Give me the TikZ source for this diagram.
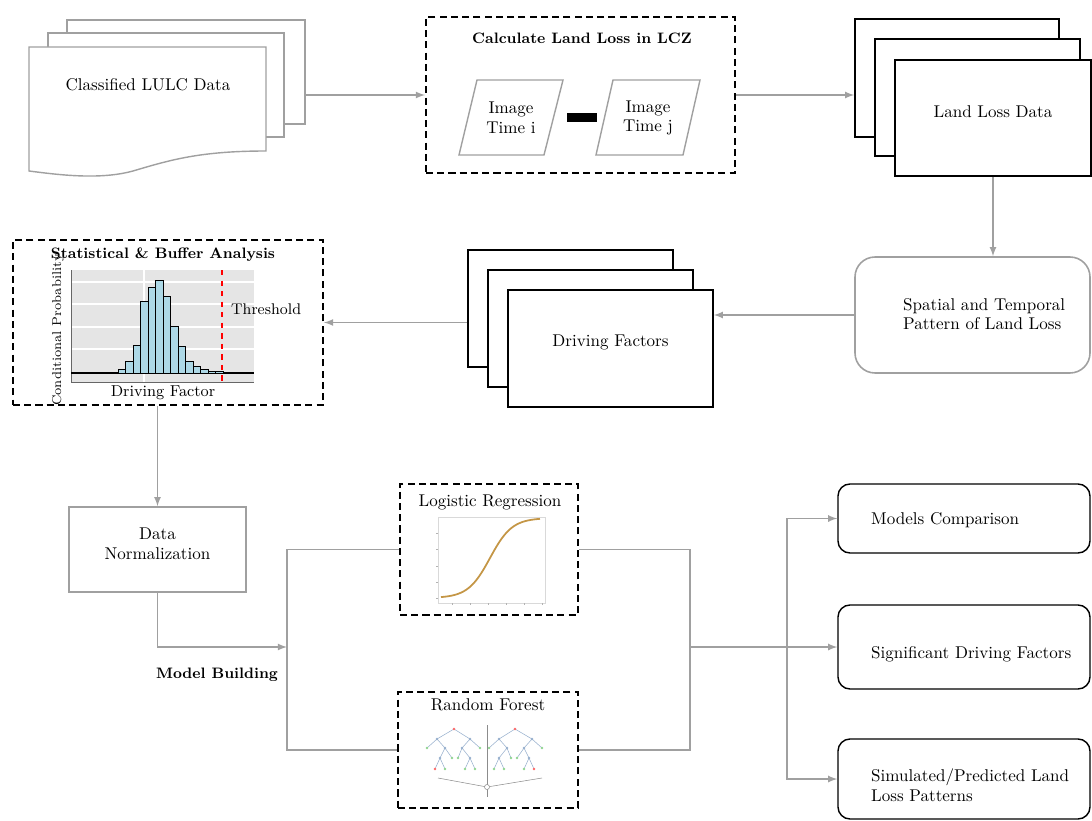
\documentclass[tikz,border=0pt]{standalone}
\usepackage{tikz}
\usepackage{xcolor}
\usetikzlibrary{fit}
\definecolor{linegray}{RGB}{160,160,160}
\definecolor{barblue}{RGB}{173,216,230}
\definecolor{sigbrown}{RGB}{196,150,70}
\definecolor{treeblue}{RGB}{150,175,205}

\newcommand{\rftree}{%
    \foreach \xa/\ya/\xb/\yb in {454/729/437/739, 454/729/470/739,
            437/739/427/748, 437/739/445/748, 470/739/462/748, 470/739/480/748,
            445/748/440/758, 445/748/452/758, 462/748/458/758, 462/748/470/758,
            440/758/435/769, 440/758/445/769, 470/758/465/769, 470/758/475/769}
        \draw[treeblue,line width=.3pt] (\xa,\ya) -- (\xb,\yb);
    \foreach \xa/\ya in {437/739, 470/739, 445/748, 462/748, 440/758, 470/758}
        \fill[treeblue] (\xa,\ya) circle (1.3);
    \foreach \xa/\ya in {427/748, 480/748, 452/758, 458/758, 445/769, 465/769, 475/769}
        \fill[green!45!gray!60] (\xa,\ya) circle (1.3);
    \fill[red!60] (454,729) circle (1.3);
    \fill[red!60] (435,769) circle (1.3);
}

\begin{document}
\begin{tikzpicture}[x=0.02cm,y=-0.02cm,>=latex,font=\fontsize{9.7}{11.2}\selectfont]
    \tikzstyle{conn} = [draw=linegray,line width=.8pt]
    \tikzstyle{graysheet} = [draw=linegray,fill=white,line width=.8pt,inner sep=0pt]
    \tikzstyle{sheet} = [draw=black,fill=white,line width=.9pt,inner sep=0pt]
    \tikzstyle{graybox} = [draw=linegray,fill=white,line width=.9pt,inner sep=0pt]
    \tikzstyle{dashbox} = [draw=black,line width=1.1pt,dash pattern=on 4pt off 2.4pt,inner sep=0pt]
    \tikzstyle{resultbox} = [draw=black,line width=.8pt,rounded corners=.24cm,inner sep=0pt]
    \tikzstyle{para} = [draw=linegray,fill=white,line width=.8pt]
    \tikzstyle{ttl} = [font=\fontsize{8.6}{10}\selectfont\bfseries]

    \useasboundingbox (0,0) rectangle (1092,821);

    % LULC data and land loss
    \node[graysheet,fit={(67,20) (305,124)}] (lulcA) {};
    \node[graysheet,fit={(48,33) (284,137)}] (lulcB) {};
    \filldraw[para] (29,47) -- (266,47) -- (266,151)
                    .. controls (200,151) and (170,160) .. (133,171)
                    .. controls (100,180) and (60,175) .. (29,171) -- cycle;
    \node (lulc) at (148,85) {Classified LULC Data};

    \node[dashbox,fit={(426,17) (735,173)}] (calc) {};
    \node[ttl] (calct) at (582,38) {Calculate Land Loss in LCZ};
    \filldraw[para] (459,155) -- (477,80) -- (563,80) -- (544,155) -- cycle;
    \node[align=center] (imgi) at (511,118) {Image\\Time i};
    \filldraw[para] (596,155) -- (613,80) -- (700,80) -- (683,155) -- cycle;
    \node[align=center] (imgj) at (648,118) {Image\\Time j};
    \fill (567,113) rectangle (597,122);

    \node[sheet,fit={(855,19) (1059,137)}] (ll1) {};
    \node[sheet,fit={(875,39) (1080,156)}] (ll2) {};
    \node[sheet,fit={(895,60) (1091,176)}] (ll3) {Land Loss Data};

    \node[graybox,rounded corners=.4cm,fit={(855,257) (1090,373)}] (pattern) {};
    \node[anchor=west,align=left] (patternt) at (897,314)
        {Spatial and Temporal\\Pattern of Land Loss};

    \node[sheet,fit={(468,250) (673,367)}] (df1) {};
    \node[sheet,fit={(488,270) (693,387)}] (df2) {};
    \node[sheet,fit={(508,290) (713,407)}] (df3) {Driving Factors};

    % statistical and buffer analysis
    \node[dashbox,fit={(13,240) (323,405)}] (stat) {};
    \node[ttl] (statt) at (163,255) {Statistical \& Buffer Analysis};
    \fill[black!10] (71,270) rectangle (254,382);
    \draw[white,line width=.6pt] (144,270) -- (144,382);
    \foreach \y in {282,304,327,349}
        \draw[white,line width=.6pt] (71,\y) -- (254,\y);
    \draw[black!60,line width=.4pt] (71,270) -- (71,382) -- (254,382);
    \draw[black,line width=1pt] (71,373.3) -- (254,373.3);
    \foreach \t [count=\i from 0] in {369.3,361.7,345.7,301.7,287.3,280,296,
                                       326.7,346.7,361.7,366,369.3,371.7,371.7}
        \filldraw[fill=barblue,draw=black,line width=.4pt]
            ({118.3+7.5*\i},373.3) rectangle ({125.8+7.5*\i},\t);
    \draw[red,dashed,line width=1.2pt] (222,270) -- (222,382);
    \node[anchor=west,font=\fontsize{8.8}{10}\selectfont] (thr) at (225,309) {Threshold};
    \node[font=\fontsize{9}{10}\selectfont] (xlab) at (163,393) {Driving Factor};
    \node[rotate=90,font=\fontsize{7.3}{8}\selectfont] (ylab) at (58,330)
        {Conditional Probability};

    \node[graybox,fit={(69,507) (246,592)},align=center] (norm) {Data\\Normalization};
    \node[ttl] (mb) at (217,675) {Model Building};

    % models
    \node[dashbox,fit={(400,484) (578,615)}] (lr) {};
    \node (lrt) at (490,502) {Logistic Regression};
    \draw[black!15,line width=.5pt] (438,517) rectangle (545,603);
    \foreach \y in {533,549,566,582,598}
        \draw[black!30,line width=.3pt] (436,\y) -- (438,\y);
    \foreach \x in {452,470,488,506,524,542}
        \draw[black!30,line width=.3pt] (\x,603) -- (\x,605);
    \draw[sigbrown,line width=1pt,domain=441:540,samples=60]
        plot (\x,{598-80/(1+exp(-(\x-490)/11))});

    \node[dashbox,fit={(398,692) (578,808)}] (rf) {};
    \node (rft) at (488,705) {Random Forest};
    \rftree
    \begin{scope}[shift={(969,0)},xscale=-1]
        \rftree
    \end{scope}
    \draw[black!45,line width=.3pt] (487,725) -- (487,797);
    \draw[black!45,line width=.3pt] (438,778) -- (487,787) -- (542,778);
    \draw[black!45,fill=white,line width=.3pt] (487,787) circle (2.5);

    \node[resultbox,fit={(838,484) (1090,553)}] (comp) {};
    \node[anchor=west] (compt) at (865,520) {Models Comparison};
    \node[resultbox,fit={(838,605) (1090,689)}] (sig) {};
    \node[anchor=west] (sigt) at (865,654) {Significant Driving Factors};
    \node[resultbox,fit={(838,739) (1090,819)}] (sim) {};
    \node[anchor=west,align=left] (simt) at (865,785)
        {Simulated/Predicted Land\\Loss Patterns};

    % connectors
    \coordinate (jl) at (287,647);
    \coordinate (jr) at (690,647);
    \coordinate (jo) at (787,647);
    \draw[conn,->] (lulcA.east |- calc.west) -- (calc.west);
    \draw[conn,->] (calc.east) -- (calc.east -| ll1.west);
    \draw[conn,->] (ll3.south) -- (ll3.south |- pattern.north);
    \draw[conn,->] (pattern.west) -- (pattern.west -| df3.east);
    \draw[conn,->] (df1.west |- stat.east) -- (stat.east);
    \draw[conn,->] (stat.south -| norm.north) -- (norm.north);
    \draw[conn,->] (norm.south) |- (jl);
    \draw[conn] (lr.west) -| (jl) |- (rf.west);
    \draw[conn] (lr.east) -| (jr) |- (rf.east);
    \draw[conn] (jr) -- (jo);
    \draw[conn,->] (jo) |- (comp.west);
    \draw[conn,->] (jo) -- (sig.west);
    \draw[conn,->] (jo) |- (sim.west);
\end{tikzpicture}
\end{document}
